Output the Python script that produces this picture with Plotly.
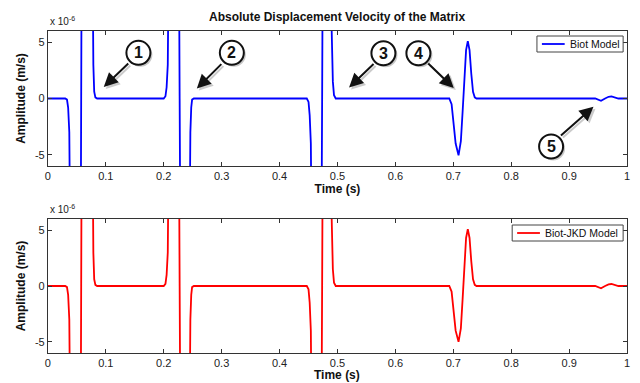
import plotly.graph_objects as go

# ---- data (amplitude in units of 1e-6 m/s) ----
time_s = [0, 0.030, 0.033, 0.035, 0.037, 0.0385, 0.042, 0.050, 0.055, 0.0575, 0.060, 0.068, 0.075,
          0.077, 0.0785, 0.080, 0.082, 0.085, 0.200, 0.203, 0.205, 0.207, 0.209, 0.213, 0.220,
          0.2275, 0.235, 0.242, 0.2445, 0.246, 0.2475, 0.249, 0.252, 0.447, 0.450, 0.452, 0.454,
          0.456, 0.460, 0.466, 0.4735, 0.480, 0.487, 0.490, 0.492, 0.494, 0.497, 0.693, 0.697,
          0.700, 0.704, 0.709, 0.713, 0.716, 0.719, 0.722, 0.725, 0.728, 0.731, 0.734, 0.737,
          0.740, 0.945, 0.950, 0.955, 0.962, 0.968, 0.973, 0.980, 0.985, 1.0]
biot_amp = [0, 0, -0.1, -0.8, -3, -8, -40, -80, -40, 0, 40, 80, 30,
            8, 3, 0.6, 0.1, 0, 0, 0.2, 1, 3, 7, 40, 80,
            0, -80, -30, -7, -3, -0.8, -0.1, 0, 0, -0.3, -1.5, -4,
            -9, -40, -80, 0, 80, 30, 6, 1.5, 0.3, 0, 0, -0.5,
            -1.8, -4.0, -5.05, -3.8, -1.2, 1.8, 4.3, 5.1, 4.3, 2.2, 0.6, 0.1,
            0, 0, -0.1, -0.2, 0, 0.15, 0.18, 0.05, 0, 0]
jkd_amp = [0, 0, -0.1, -0.8, -3, -8, -40, -80, -40, 0, 40, 80, 30,
           8, 3, 0.6, 0.1, 0, 0, 0.2, 1, 3, 7, 40, 80,
           0, -80, -30, -7, -3, -0.8, -0.1, 0, 0, -0.3, -1.5, -4,
           -9, -40, -80, 0, 80, 30, 6, 1.5, 0.3, 0, 0, -0.5,
           -1.8, -4.0, -5.0, -3.8, -1.2, 1.8, 4.3, 5.1, 4.3, 2.2, 0.6, 0.1,
           0, 0, -0.1, -0.2, 0, 0.15, 0.18, 0.05, 0, 0]
x_ticks = [0, 0.1, 0.2, 0.3, 0.4, 0.5, 0.6, 0.7, 0.8, 0.9, 1.0]
x_tick_labels = ["0", "0.1", "0.2", "0.3", "0.4", "0.5", "0.6", "0.7", "0.8", "0.9", "1"]
y_ticks = [-5, 0, 5]
y_tick_labels = ["-5", "0", "5"]
series_names = ["Biot Model", "Biot-JKD Model"]
series_colors = ["#0000ff", "#ff0000"]
# callouts: label, circle (t, amp), arrow tip (t, amp)
callout_labels = ["1", "2", "3", "4", "5"]
callout_circle_t = [0.1563, 0.3176, 0.5793, 0.6397, 0.8688]
callout_circle_a = [4.06, 4.06, 4.02, 4.02, -4.27]
callout_tip_t = [0.0965, 0.2572, 0.520, 0.7007, 0.9419]
callout_tip_a = [1.02, 0.88, 0.97, 0.93, -0.74]

FONT = "Arial, Liberation Sans, sans-serif"
W, H = 640, 383
L, R = 45.3, 630
xdom = [L / W, R / W]
top_dom = [1 - 166 / H, 1 - 31 / H]
bot_dom = [1 - 353 / H, 1 - 219 / H]


def px(xp):
    return xp / W


def py(yp):
    return 1 - yp / H


fig = go.Figure()
fig.add_trace(go.Scatter(x=time_s, y=biot_amp, mode="lines", name=series_names[0],
                         line=dict(color=series_colors[0], width=1.8), xaxis="x", yaxis="y",
                         showlegend=False))
fig.add_trace(go.Scatter(x=time_s, y=jkd_amp, mode="lines", name=series_names[1],
                         line=dict(color=series_colors[1], width=1.8), xaxis="x2", yaxis="y2",
                         showlegend=False))

axis_common = dict(showline=True, linecolor="#333333", linewidth=1, mirror="ticks",
                   ticks="inside", ticklen=4, tickcolor="#333333", showgrid=False,
                   zeroline=False, tickfont=dict(family=FONT, size=11, color="#222"))
xt = dict(text="<b>Time (s)</b>", font=dict(family=FONT, size=12, color="#111"), standoff=1)
yt = dict(text="<b>Amplitude (m/s)</b>", font=dict(family=FONT, size=12, color="#111"), standoff=6)

fig.update_layout(
    width=W, height=H, margin=dict(l=0, r=0, t=0, b=0),
    paper_bgcolor="white", plot_bgcolor="white", showlegend=False,
    xaxis=dict(domain=xdom, anchor="y", range=[0, 1], tickvals=x_ticks, ticktext=x_tick_labels,
               title=xt, **axis_common),
    yaxis=dict(domain=top_dom, anchor="x", range=[-6, 6], tickvals=y_ticks, ticktext=y_tick_labels,
               title=yt, **axis_common),
    xaxis2=dict(domain=xdom, anchor="y2", range=[0, 1], tickvals=x_ticks, ticktext=x_tick_labels,
                **axis_common),
    yaxis2=dict(domain=bot_dom, anchor="x2", range=[-6, 6], tickvals=y_ticks, ticktext=y_tick_labels,
                title=yt, **axis_common),
)

# bottom x-axis title (placed just under the tick labels, as in the reference)
fig.add_annotation(xref="paper", yref="paper", x=(L + R) / 2 / W, y=0,
                   text="<b>Time (s)</b>", showarrow=False, xanchor="center", yanchor="bottom",
                   borderpad=0, font=dict(family=FONT, size=12, color="#111"))
# title
fig.add_annotation(xref="paper", yref="paper", x=(L + R) / 2 / W, y=py(17),
                   text="<b>Absolute Displacement Velocity of the Matrix</b>", showarrow=False,
                   font=dict(family=FONT, size=12, color="#111"), xanchor="center", yanchor="middle")
# exponent labels
for ytop in (31, 219):
    fig.add_annotation(xref="paper", yref="paper", x=px(L), y=py(ytop - 2),
                       text="x 10<sup>-6</sup>", showarrow=False, xanchor="left", yanchor="bottom",
                       font=dict(family=FONT, size=10, color="#222"))

# custom MATLAB-style legends
legend_boxes = [(539, 36, 626, 52), (514, 225, 626, 241)]
for (x0, y0, x1, y1), name, col in zip(legend_boxes, series_names, series_colors):
    fig.add_shape(type="rect", xref="paper", yref="paper", x0=px(x0), x1=px(x1), y0=py(y1), y1=py(y0),
                  line=dict(color="#444", width=1), fillcolor="white")
    ym = (y0 + y1) / 2
    fig.add_shape(type="line", xref="paper", yref="paper", x0=px(x0 + 5), x1=px(x0 + 28),
                  y0=py(ym), y1=py(ym), line=dict(color=col, width=1.8))
    fig.add_annotation(xref="paper", yref="paper", x=px(x0 + 31), y=py(ym), text=name,
                       showarrow=False, xanchor="left", yanchor="middle",
                       font=dict(family=FONT, size=10.5, color="#111"))

# callouts (top panel)
tail_off = [(26, -25), (26, -26), (26, -25), (-27, -26), (-34, 30)]
for lab, ct, ca, tt, ta, (ax, ay) in zip(callout_labels, callout_circle_t, callout_circle_a,
                                          callout_tip_t, callout_tip_a, tail_off):
    fig.add_annotation(x=tt, y=ta, xref="x", yref="y", ax=ax, ay=ay, text="", showarrow=True,
                       arrowhead=2, arrowsize=1.4, arrowwidth=2, arrowcolor="rgba(0,0,0,0.2)",
                       xshift=2, yshift=-2)
    fig.add_annotation(x=tt, y=ta, xref="x", yref="y", ax=ax, ay=ay, text="", showarrow=True,
                       arrowhead=2, arrowsize=1.4, arrowwidth=2, arrowcolor="#111")
    fig.add_shape(type="circle", xref="x", yref="y", xsizemode="pixel", ysizemode="pixel",
                  xanchor=ct, yanchor=ca, x0=-10, x1=14, y0=-14, y1=10,
                  line=dict(width=0), fillcolor="rgba(0,0,0,0.22)")
    fig.add_shape(type="circle", xref="x", yref="y", xsizemode="pixel", ysizemode="pixel",
                  xanchor=ct, yanchor=ca, x0=-12, x1=12, y0=-12, y1=12,
                  line=dict(width=2, color="#111"), fillcolor="white")
    fig.add_annotation(x=ct, y=ca, xref="x", yref="y", text="<b>" + lab + "</b>", showarrow=False,
                       font=dict(family=FONT, size=16, color="#111"), xanchor="center",
                       yanchor="middle")

fig.write_html("out.html")
